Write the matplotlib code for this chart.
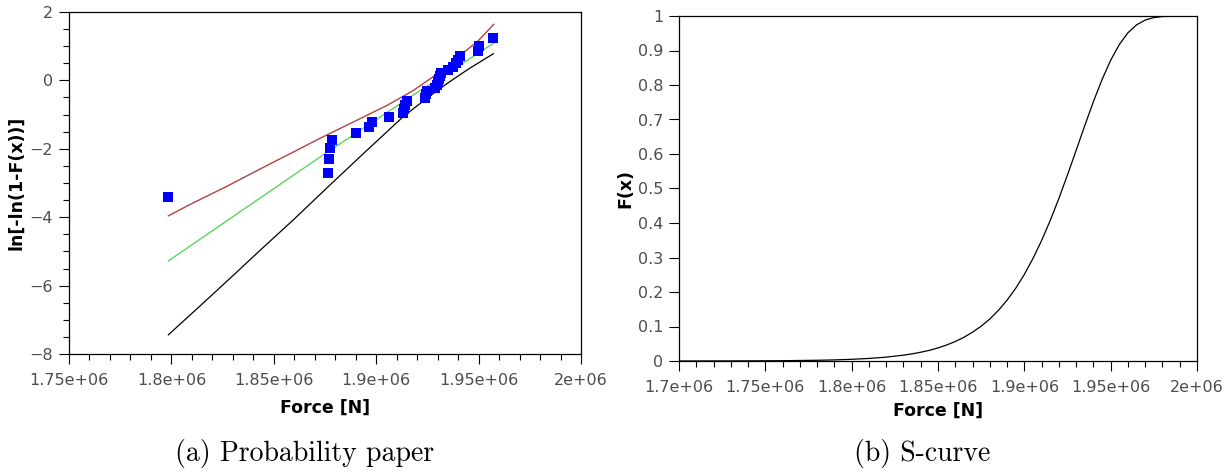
import matplotlib
matplotlib.use("Agg")
import matplotlib.pyplot as plt
from matplotlib.ticker import MultipleLocator, FuncFormatter

# probability paper: sorted failure forces and their ln[-ln(1-F)] positions
force_pts = [1.7984e6, 1.8766e6, 1.8770e6, 1.8774e6, 1.8784e6, 1.8900e6,
             1.8966e6, 1.8981e6, 1.9064e6, 1.9132e6, 1.9137e6, 1.9142e6,
             1.9149e6, 1.9240e6, 1.9243e6, 1.9250e6, 1.9287e6, 1.9295e6,
             1.9300e6, 1.9305e6, 1.9310e6, 1.9315e6, 1.9352e6, 1.9377e6,
             1.9390e6, 1.9399e6, 1.9409e6, 1.9497e6, 1.9500e6, 1.9572e6]
lnln_pts = [-3.42, -2.71, -2.29, -1.98, -1.74, -1.54, -1.36, -1.21, -1.07,
            -0.94, -0.83, -0.71, -0.61, -0.51, -0.41, -0.32, -0.23, -0.14,
            -0.05, 0.04, 0.12, 0.21, 0.30, 0.40, 0.50, 0.60, 0.72, 0.85,
            1.01, 1.23]

# fitted line (green)
fit_force = [1.7985e6, 1.835e6, 1.8726e6, 1.915e6, 1.9574e6]
fit_lnln = [-5.28, -3.78, -2.24, -0.55, 1.09]

# upper bound (red)
upper_force = [1.7985e6, 1.810e6, 1.827e6, 1.843e6, 1.860e6, 1.873e6,
               1.889e6, 1.905e6, 1.918e6, 1.930e6, 1.940e6, 1.950e6, 1.9574e6]
upper_lnln = [-3.96, -3.60, -3.10, -2.60, -2.08, -1.68, -1.21, -0.74, -0.30,
              0.20, 0.68, 1.17, 1.64]

# lower bound (black)
lower_force = [1.7985e6, 1.815e6, 1.8302e6, 1.8449e6, 1.8595e6, 1.8774e6,
               1.895e6, 1.9132e6, 1.925e6, 1.9344e6, 1.945e6, 1.9572e6]
lower_lnln = [-7.44, -6.54, -5.70, -4.88, -4.08, -3.06, -2.07, -1.06, -0.51,
              -0.10, 0.33, 0.78]

# S-curve
curve_force = [1.70e6, 1.72e6, 1.74e6, 1.76e6, 1.78e6, 1.79e6, 1.80e6, 1.81e6,
               1.82e6, 1.83e6, 1.835e6, 1.84e6, 1.845e6, 1.85e6, 1.855e6,
               1.86e6, 1.865e6, 1.87e6, 1.875e6, 1.88e6, 1.885e6, 1.89e6,
               1.895e6, 1.90e6, 1.905e6, 1.91e6, 1.915e6, 1.92e6, 1.925e6,
               1.93e6, 1.935e6, 1.94e6, 1.945e6, 1.95e6, 1.955e6, 1.96e6,
               1.965e6, 1.97e6, 1.975e6, 1.98e6, 1.99e6, 2.00e6]
curve_cdf = [0.0001, 0.0002, 0.0004, 0.0009, 0.0021, 0.0032, 0.0049, 0.0074,
             0.0112, 0.0169, 0.0207, 0.0254, 0.0309, 0.0379, 0.0463, 0.0565,
             0.0687, 0.0836, 0.1008, 0.1218, 0.1468, 0.1764, 0.2108, 0.2509,
             0.2970, 0.3492, 0.4074, 0.4711, 0.5394, 0.6105, 0.6823, 0.7517,
             0.8157, 0.8717, 0.9172, 0.9513, 0.9743, 0.9882, 0.9954, 0.9985,
             1.0, 1.0]

TICK_GRAY = "#4d4d4d"
plt.rcParams["font.family"] = "DejaVu Sans"

fig = plt.figure(figsize=(12.29, 4.74), dpi=100)
ax1 = fig.add_axes([69 / 1229, 1 - 354 / 474, 512 / 1229, 342 / 474])
ax2 = fig.add_axes([679 / 1229, 1 - 361 / 474, 518 / 1229, 345 / 474])


def style_axes(ax):
    for sp in ax.spines.values():
        sp.set_linewidth(0.9)
        sp.set_color("black")
    ax.tick_params(which="major", direction="out", length=7.5, width=0.8,
                   labelsize=11.5, labelcolor=TICK_GRAY, pad=4)
    ax.tick_params(axis="x", which="major", pad=6)
    ax.tick_params(which="minor", direction="out", length=4, width=0.8)
    ax.xaxis.set_major_formatter(FuncFormatter(lambda v, p: "%g" % v))


# (a) probability paper
ax1.plot(upper_force, upper_lnln, color="#b5413f", lw=1.0)
ax1.plot(fit_force, fit_lnln, color="#5fd35f", lw=1.0)
ax1.plot(lower_force, lower_lnln, color="black", lw=0.9)
ax1.plot(force_pts, lnln_pts, "s", color="#0000ff", ms=6.8, mew=0)
ax1.set_xlim(1.75e6, 2.0e6)
ax1.set_ylim(-8, 2)
ax1.xaxis.set_major_locator(MultipleLocator(0.05e6))
ax1.xaxis.set_minor_locator(MultipleLocator(0.01e6))
ax1.yaxis.set_major_locator(MultipleLocator(2))
ax1.yaxis.set_minor_locator(MultipleLocator(0.5))
style_axes(ax1)
ax1.yaxis.set_major_formatter(FuncFormatter(lambda v, p: ("%g" % v).replace("-", "\u2212")))
ax1.set_xlabel("Force [N]", fontsize=12.5, fontweight="bold")
ax1.set_ylabel("ln[-ln(1-F(x))]", fontsize=12.5, fontweight="bold")
ax1.xaxis.set_label_coords(0.5, -0.132)
ax1.yaxis.set_label_coords(-0.086, 0.5)

# (b) S-curve
ax2.plot(curve_force, curve_cdf, color="black", lw=0.9)
ax2.set_xlim(1.7e6, 2.0e6)
ax2.set_ylim(0, 1)
ax2.xaxis.set_major_locator(MultipleLocator(0.05e6))
ax2.xaxis.set_minor_locator(MultipleLocator(0.01e6))
ax2.yaxis.set_major_locator(MultipleLocator(0.1))
style_axes(ax2)
ax2.yaxis.set_major_formatter(FuncFormatter(lambda v, p: "%g" % round(v, 2)))
ax2.set_xlabel("Force [N]", fontsize=12.5, fontweight="bold")
ax2.set_ylabel("F(x)", fontsize=12.5, fontweight="bold")
ax2.xaxis.set_label_coords(0.5, -0.119)
ax2.yaxis.set_label_coords(-0.087, 0.5)

# sub-captions
fig.text(305 / 1229, 1 - 453 / 474, "(a) Probability paper", family="cmr10",
         fontsize=20, ha="center", va="center")
fig.text(922 / 1229, 1 - 453 / 474, "(b) S-curve", family="cmr10",
         fontsize=20, ha="center", va="center")

fig.savefig("out.png", dpi=100)
